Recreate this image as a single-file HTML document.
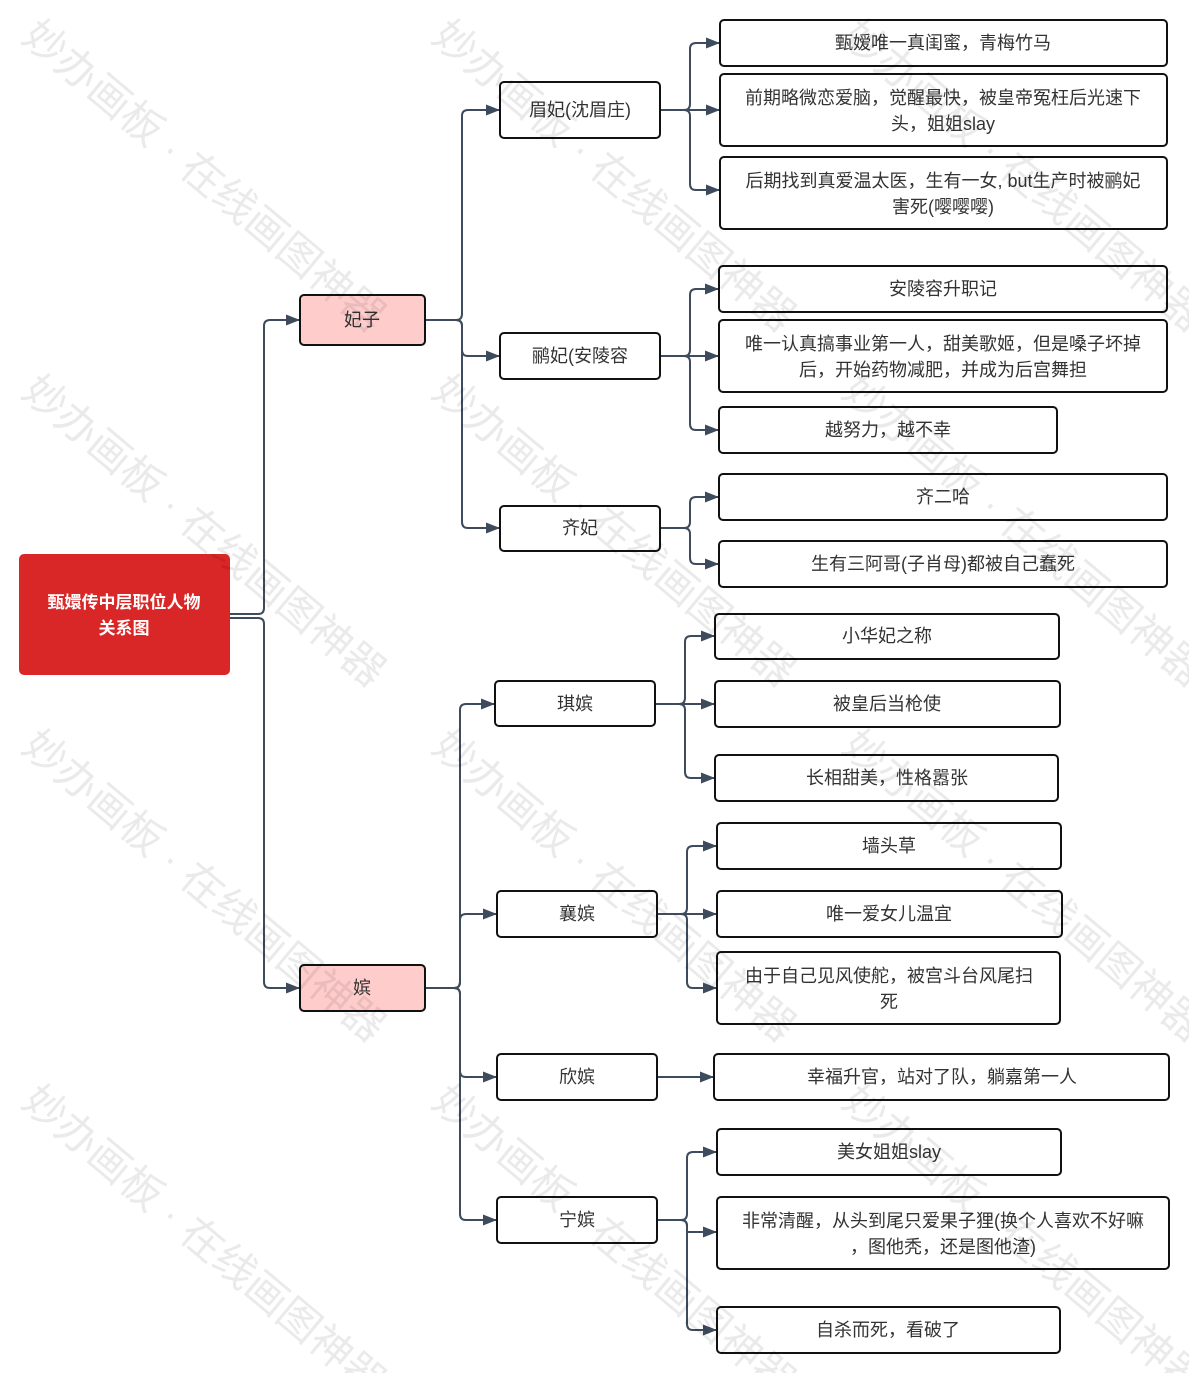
<!DOCTYPE html>
<html><head><meta charset="utf-8"><style>
html,body{margin:0;padding:0;background:#fff}
svg{display:block}
text{font-family:"Liberation Sans","Noto Sans CJK SC",sans-serif}
.t{font-size:18px;fill:#333;text-anchor:middle}
.b{fill:#fff;stroke:#111;stroke-width:2}
.p{fill:#ffcccc;stroke:#111;stroke-width:2}
.l{fill:none;stroke:#3d4b5c;stroke-width:2}
.w{font-size:42px;fill:#000;opacity:0.08}
</style></head><body>
<svg width="1189" height="1373" viewBox="0 0 1189 1373" xmlns="http://www.w3.org/2000/svg">
<defs><marker id="a" markerWidth="14" markerHeight="12" refX="13" refY="6" orient="auto" markerUnits="userSpaceOnUse"><path d="M0,0.5 L14,6 L0,11.5 Z" fill="#3d4b5c"/></marker></defs>

<g class="l" marker-end="url(#a)">
<path d="M230,614 H258 Q264,614 264,608 V326 Q264,320 270,320 H299"/>
<path d="M230,618 H258 Q264,618 264,624 V982 Q264,988 270,988 H299"/>
<path d="M425,320 H456 Q462,320 462,314 V116 Q462,110 468,110 H499"/>
<path d="M425,320 H456 Q462,320 462,326 V350 Q462,356 468,356 H499"/>
<path d="M425,320 H456 Q462,320 462,326 V522 Q462,528 468,528 H499"/>
<path d="M660,110 H684 Q690,110 690,104 V49 Q690,43 696,43 H719"/>
<path d="M660,110 H719"/>
<path d="M660,110 H684 Q690,110 690,116 V184 Q690,190 696,190 H719"/>
<path d="M660,356 H684 Q690,356 690,350 V295 Q690,289 696,289 H718"/>
<path d="M660,356 H718"/>
<path d="M660,356 H684 Q690,356 690,362 V424 Q690,430 696,430 H718"/>
<path d="M660,528 H684 Q690,528 690,522 V503 Q690,497 696,497 H718"/>
<path d="M660,528 H684 Q690,528 690,534 V558 Q690,564 696,564 H718"/>
<path d="M425,988 H454 Q460,988 460,982 V710 Q460,704 466,704 H494"/>
<path d="M425,988 H454 Q460,988 460,982 V920 Q460,914 466,914 H496"/>
<path d="M425,988 H454 Q460,988 460,994 V1071 Q460,1077 466,1077 H496"/>
<path d="M425,988 H454 Q460,988 460,994 V1214 Q460,1220 466,1220 H496"/>
<path d="M655,704 H679 Q685,704 685,698 V642 Q685,636 691,636 H714"/>
<path d="M655,704 H714"/>
<path d="M655,704 H679 Q685,704 685,710 V772 Q685,778 691,778 H714"/>
<path d="M657,914 H681 Q687,914 687,908 V852 Q687,846 693,846 H716"/>
<path d="M657,914 H716"/>
<path d="M657,914 H681 Q687,914 687,920 V982 Q687,988 693,988 H716"/>
<path d="M657,1077 H713"/>
<path d="M657,1220 H681 Q687,1220 687,1214 V1158 Q687,1152 693,1152 H716"/>
<path d="M657,1220 H681 Q687,1220 687,1226 V1232 H716"/>
<path d="M657,1220 H681 Q687,1220 687,1226 V1324 Q687,1330 693,1330 H716"/>
</g>

<rect x="19" y="554" width="211" height="121" rx="5" fill="#d92626"/>
<text x="124" y="608" text-anchor="middle" font-size="17" font-weight="bold" fill="#fff">甄嬛传中层职位人物</text>
<text x="124" y="634" text-anchor="middle" font-size="17" font-weight="bold" fill="#fff">关系图</text>

<rect class="p" x="300" y="295" width="125" height="50" rx="4"/><text class="t" x="362" y="326">妃子</text>
<rect class="p" x="300" y="965" width="125" height="46" rx="4"/><text class="t" x="362" y="994">嫔</text>

<rect class="b" x="500" y="82" width="160" height="56" rx="4"/><text class="t" x="580" y="116">眉妃(沈眉庄)</text>
<rect class="b" x="500" y="333" width="160" height="46" rx="4"/><text class="t" x="580" y="362">鹂妃(安陵容</text>
<rect class="b" x="500" y="506" width="160" height="45" rx="4"/><text class="t" x="580" y="534">齐妃</text>

<rect class="b" x="720" y="20" width="447" height="46" rx="4"/><text class="t" x="943" y="49">甄嫒唯一真闺蜜，青梅竹马</text>
<rect class="b" x="720" y="74" width="447" height="72" rx="4"/><text class="t" x="943" y="104">前期略微恋爱脑，觉醒最快，被皇帝冤枉后光速下</text><text class="t" x="943" y="130">头，姐姐slay</text>
<rect class="b" x="720" y="157" width="447" height="72" rx="4"/><text class="t" x="943" y="187">后期找到真爱温太医，生有一女, but生产时被鹂妃</text><text class="t" x="943" y="213">害死(嘤嘤嘤)</text>

<rect class="b" x="719" y="266" width="448" height="46" rx="4"/><text class="t" x="943" y="295">安陵容升职记</text>
<rect class="b" x="719" y="320" width="448" height="72" rx="4"/><text class="t" x="943" y="350">唯一认真搞事业第一人，甜美歌姬，但是嗓子坏掉</text><text class="t" x="943" y="376">后，开始药物减肥，并成为后宫舞担</text>
<rect class="b" x="719" y="407" width="338" height="46" rx="4"/><text class="t" x="888" y="436">越努力，越不幸</text>

<rect class="b" x="719" y="474" width="448" height="46" rx="4"/><text class="t" x="943" y="503">齐二哈</text>
<rect class="b" x="719" y="541" width="448" height="46" rx="4"/><text class="t" x="943" y="570">生有三阿哥(子肖母)都被自己蠢死</text>

<rect class="b" x="495" y="681" width="160" height="45" rx="4"/><text class="t" x="575" y="710">琪嫔</text>
<rect class="b" x="497" y="891" width="160" height="46" rx="4"/><text class="t" x="577" y="920">襄嫔</text>
<rect class="b" x="497" y="1054" width="160" height="46" rx="4"/><text class="t" x="577" y="1083">欣嫔</text>
<rect class="b" x="497" y="1197" width="160" height="46" rx="4"/><text class="t" x="577" y="1226">宁嫔</text>

<rect class="b" x="715" y="614" width="344" height="45" rx="4"/><text class="t" x="887" y="642">小华妃之称</text>
<rect class="b" x="715" y="681" width="345" height="46" rx="4"/><text class="t" x="887" y="710">被皇后当枪使</text>
<rect class="b" x="715" y="755" width="343" height="46" rx="4"/><text class="t" x="887" y="784">长相甜美，性格嚣张</text>

<rect class="b" x="717" y="823" width="344" height="46" rx="4"/><text class="t" x="889" y="852">墙头草</text>
<rect class="b" x="717" y="891" width="345" height="46" rx="4"/><text class="t" x="889" y="920">唯一爱女儿温宜</text>
<rect class="b" x="717" y="952" width="343" height="72" rx="4"/><text class="t" x="889" y="982">由于自己见风使舵，被宫斗台风尾扫</text><text class="t" x="889" y="1008">死</text>

<rect class="b" x="714" y="1054" width="455" height="46" rx="4"/><text class="t" x="942" y="1083">幸福升官，站对了队，躺嘉第一人</text>

<rect class="b" x="717" y="1129" width="344" height="46" rx="4"/><text class="t" x="889" y="1158">美女姐姐slay</text>
<rect class="b" x="717" y="1197" width="452" height="72" rx="4"/><text class="t" x="943" y="1227">非常清醒，从头到尾只爱果子狸(换个人喜欢不好嘛</text><text class="t" x="943" y="1253">，图他秃，还是图他渣)</text>
<rect class="b" x="717" y="1307" width="343" height="46" rx="4"/><text class="t" x="888" y="1336">自杀而死，看破了</text>

<g>
<text class="w" transform="translate(20,40) rotate(40)">妙办画板 · 在线画图神器</text>
<text class="w" transform="translate(430,40) rotate(40)">妙办画板 · 在线画图神器</text>
<text class="w" transform="translate(840,40) rotate(40)">妙办画板 · 在线画图神器</text>
<text class="w" transform="translate(20,395) rotate(40)">妙办画板 · 在线画图神器</text>
<text class="w" transform="translate(430,395) rotate(40)">妙办画板 · 在线画图神器</text>
<text class="w" transform="translate(840,395) rotate(40)">妙办画板 · 在线画图神器</text>
<text class="w" transform="translate(20,750) rotate(40)">妙办画板 · 在线画图神器</text>
<text class="w" transform="translate(430,750) rotate(40)">妙办画板 · 在线画图神器</text>
<text class="w" transform="translate(840,750) rotate(40)">妙办画板 · 在线画图神器</text>
<text class="w" transform="translate(20,1105) rotate(40)">妙办画板 · 在线画图神器</text>
<text class="w" transform="translate(430,1105) rotate(40)">妙办画板 · 在线画图神器</text>
<text class="w" transform="translate(840,1105) rotate(40)">妙办画板 · 在线画图神器</text>
</g>
</svg>
</body></html>
